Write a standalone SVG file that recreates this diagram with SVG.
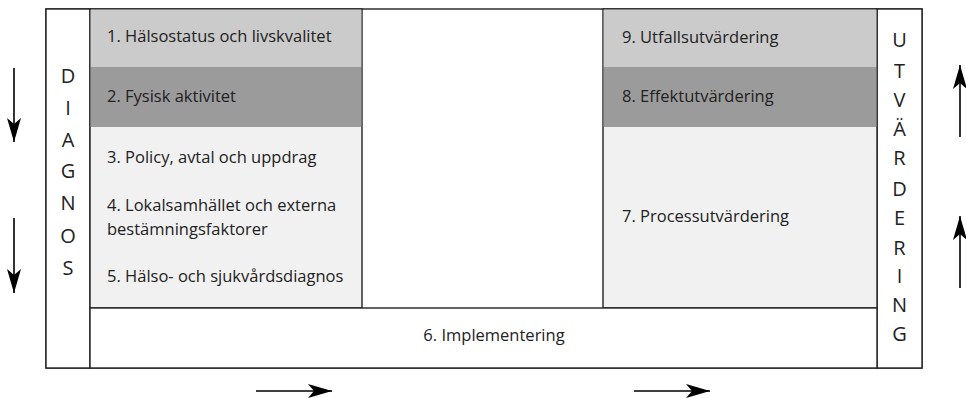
<svg xmlns="http://www.w3.org/2000/svg" width="966" height="398" viewBox="0 0 966 398">
<style>
.b{stroke:#222;stroke-width:1.4;}
.t{font-family:"Open Sans",Lato,sans-serif;font-size:16.5px;fill:#222;}
.v{font-family:"Open Sans",Lato,sans-serif;font-size:20px;fill:#222;text-anchor:middle;}
.a{stroke:#000;stroke-width:1.6;fill:none;}
</style>
<defs>
<marker id="ah" markerWidth="26" markerHeight="14" refX="24" refY="7" orient="auto" markerUnits="userSpaceOnUse">
<path d="M0,0 L24,7 L0,14 L6,7 Z" fill="#000"/>
</marker>
</defs>
<rect width="966" height="398" fill="#fff"/>
<g id="outer"><rect x="46" y="9" width="876" height="359" fill="#fff" class="b"/></g>
<g id="diagnos">
<rect x="46" y="9" width="44" height="359" fill="#fff" class="b"/>
<text class="v" x="68" y="83">D</text>
<text class="v" x="68" y="115">I</text>
<text class="v" x="68" y="147">A</text>
<text class="v" x="68" y="178">G</text>
<text class="v" x="68" y="210">N</text>
<text class="v" x="68" y="243">O</text>
<text class="v" x="68" y="275">S</text>
</g>
<g id="utvardering">
<rect x="877" y="9" width="45" height="359" fill="#fff" class="b"/>
<text class="v" x="899.5" y="47">U</text>
<text class="v" x="899.5" y="78">T</text>
<text class="v" x="899.5" y="107">V</text>
<text class="v" x="899.5" y="136">Ä</text>
<text class="v" x="899.5" y="165">R</text>
<text class="v" x="899.5" y="196">D</text>
<text class="v" x="899.5" y="225">E</text>
<text class="v" x="899.5" y="255">R</text>
<text class="v" x="899.5" y="283">I</text>
<text class="v" x="899.5" y="312">N</text>
<text class="v" x="899.5" y="341">G</text>
</g>
<g id="left-panel">
<rect x="90" y="9" width="272" height="299" fill="#f1f1f1" class="b"/>
<rect x="90.7" y="9.7" width="270.6" height="57.3" fill="#cbcbcb"/>
<rect x="90.7" y="67" width="270.6" height="60" fill="#9b9b9b"/>
</g>
<g id="n1"><text class="t" x="107" y="42">1. Hälsostatus och livskvalitet</text></g>
<g id="n2"><text class="t" x="107" y="102">2. Fysisk aktivitet</text></g>
<g id="n3"><text class="t" x="107" y="163">3. Policy, avtal och uppdrag</text></g>
<g id="n4"><text class="t" x="107" y="211">4. Lokalsamhället och externa</text><text class="t" x="107" y="235">bestämningsfaktorer</text></g>
<g id="n5"><text class="t" x="107" y="282">5. Hälso- och sjukvårdsdiagnos</text></g>
<g id="right-panel">
<rect x="603" y="9" width="274" height="299" fill="#f1f1f1" class="b"/>
<rect x="603.7" y="9.7" width="272.6" height="57.3" fill="#cbcbcb"/>
<rect x="603.7" y="67" width="272.6" height="60" fill="#9b9b9b"/>
</g>
<g id="n9"><text class="t" x="622" y="43">9. Utfallsutvärdering</text></g>
<g id="n8"><text class="t" x="622" y="102">8. Effektutvärdering</text></g>
<g id="n7"><text class="t" x="622" y="222">7. Processutvärdering</text></g>
<g id="n6">
<rect x="90" y="308" width="787" height="60" fill="#fff" class="b"/>
<text class="t" x="494" y="341" text-anchor="middle">6. Implementering</text>
</g>
<g id="connectors">
<line class="a" x1="14" y1="68" x2="14" y2="142" marker-end="url(#ah)"/>
<line class="a" x1="14" y1="218" x2="14" y2="293" marker-end="url(#ah)"/>
<line class="a" x1="960" y1="137" x2="960" y2="65" marker-end="url(#ah)"/>
<line class="a" x1="960" y1="288" x2="960" y2="216" marker-end="url(#ah)"/>
<line class="a" x1="256" y1="391" x2="332" y2="391" marker-end="url(#ah)"/>
<line class="a" x1="634" y1="391" x2="710" y2="391" marker-end="url(#ah)"/>
</g>
</svg>
